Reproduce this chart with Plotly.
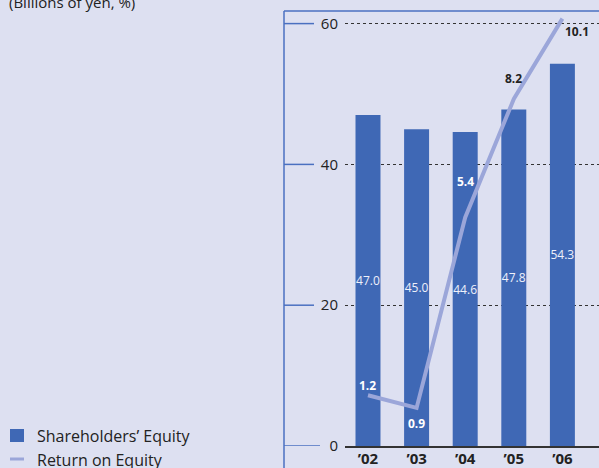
import plotly.graph_objects as go

# ---- data ----
years = ["’02", "’03", "’04", "’05", "’06"]
equity = [47.0, 45.0, 44.6, 47.8, 54.3]          # Shareholders' Equity (billions of yen)
roe = [1.2, 0.9, 5.4, 8.2, 10.1]                 # Return on Equity (%)
y_ticks = [0, 20, 40, 60]

# ---- styling ----
BG = "#DDE0F1"
BAR = "#3F68B5"
LINE = "#9BA6D9"
AXIS_BLUE = "#4A70C0"
DARK = "#222222"
FONT = "Open Sans"

W, H = 599, 468
L, R, T, B = 345, 0, 11, 22
PW, PH = W - L - R, H - T - B


def px(x):
    return (x - L) / PW


def py(y):
    return (H - B - y) / PH


fig = go.Figure()

fig.add_trace(go.Bar(
    x=years, y=equity, name="Shareholders’ Equity",
    marker=dict(color=BAR, line=dict(width=0)),
    text=[f"{v:.1f}" for v in equity],
    textposition="inside", insidetextanchor="middle", textangle=0,
    constraintext="none",
    textfont=dict(color="#EEF0FA", size=12, family=FONT),
    hoverinfo="skip", showlegend=False,
))

fig.add_trace(go.Scatter(
    x=years, y=roe, name="Return on Equity", yaxis="y2",
    mode="lines", line=dict(color=LINE, width=4),
    hoverinfo="skip", showlegend=False,
))

# ROE labels (offsets in pixels, colours per label)
roe_xshift = [0, 0, 0, 0, 15]
roe_yshift = [10, -16, 36, 21, -13]
roe_color = ["#FFFFFF", "#FFFFFF", "#FFFFFF", DARK, DARK]
annotations = []
for i, v in enumerate(roe):
    annotations.append(dict(
        x=years[i], y=v, xref="x", yref="y2", text=f"{v:.1f}",
        showarrow=False, xshift=roe_xshift[i], yshift=roe_yshift[i],
        font=dict(family=FONT, size=12, color=roe_color[i], weight="bold"),
    ))

# title (cropped at the top)
annotations.append(dict(
    x=px(7), y=py(2), xref="paper", yref="paper", xanchor="left", yanchor="middle",
    text="(Billions of yen, %)", showarrow=False,
    font=dict(family=FONT, size=15, color=DARK),
))

# custom legend
annotations.append(dict(
    x=px(35), y=py(435.5), xref="paper", yref="paper", xanchor="left", yanchor="middle",
    text="Shareholders’ Equity", showarrow=False,
    font=dict(family=FONT, size=16, color=DARK),
))
annotations.append(dict(
    x=px(35), y=py(459.5), xref="paper", yref="paper", xanchor="left", yanchor="middle",
    text="Return on Equity", showarrow=False,
    font=dict(family=FONT, size=16, color=DARK),
))

shapes = [
    # legend symbols
    dict(type="rect", xref="paper", yref="paper", x0=px(10), x1=px(24), y0=py(442), y1=py(429),
         fillcolor=BAR, line=dict(width=0)),
    dict(type="line", xref="paper", yref="paper", x0=px(10), x1=px(24), y0=py(459), y1=py(459),
         line=dict(color=LINE, width=3)),
    # frame: left vertical line and top line
    dict(type="line", xref="paper", yref="paper", x0=px(284), x1=px(284), y0=py(11), y1=py(470),
         line=dict(color=AXIS_BLUE, width=1.5)),
    dict(type="line", xref="paper", yref="paper", x0=px(284), x1=px(600), y0=py(11), y1=py(11),
         line=dict(color=AXIS_BLUE, width=1.5)),
]
# tick marks on the left frame line
for t in y_ticks:
    shapes.append(dict(type="line", xref="paper", yref="y",
                       x0=px(284), x1=px(320 if t == 0 else 314), y0=t, y1=t,
                       line=dict(color=AXIS_BLUE, width=1.5)))

fig.update_layout(
    width=W, height=H,
    margin=dict(l=L, r=R, t=T, b=B, pad=0, autoexpand=False),
    paper_bgcolor=BG, plot_bgcolor=BG,
    bargap=0.486,
    font=dict(family=FONT, color=DARK),
    xaxis=dict(
        type="category", categoryorder="array", categoryarray=years,
        range=[-0.473, 4.753], showgrid=False, zeroline=False,
        showline=True, linecolor="#333333", linewidth=2,
        ticks="", ticklabelstandoff=-2, automargin=False,
        tickfont=dict(family=FONT, size=15, color=DARK, weight="bold"),
        fixedrange=True,
    ),
    yaxis=dict(
        range=[0, 61.79], tickvals=y_ticks, ticktext=[str(t) for t in y_ticks],
        showgrid=True, gridcolor="#333333", gridwidth=1, griddash="3px,3px",
        zeroline=False, showline=False, ticks="", ticklabelstandoff=6,
        automargin=False,
        tickfont=dict(family=FONT, size=15, color=DARK),
        fixedrange=True,
    ),
    yaxis2=dict(range=[0, 10.28], overlaying="y", side="right", visible=False,
                fixedrange=True),
    annotations=annotations,
    shapes=shapes,
    showlegend=False,
)

fig.write_html(
    "out.html",
    config={"displayModeBar": False},
    post_script="document.body.style.margin='0px';document.body.style.overflow='hidden';"
                "document.body.style.background='" + BG + "';",
)
